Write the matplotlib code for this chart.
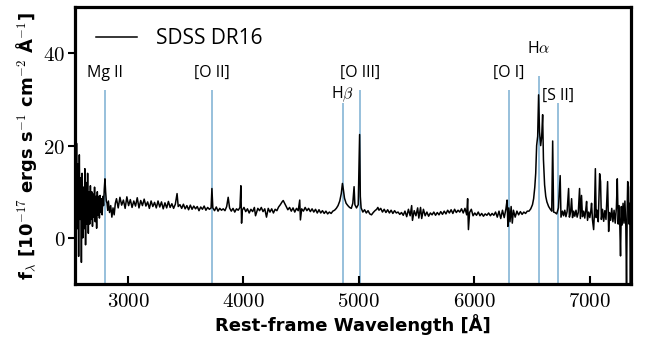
import matplotlib
matplotlib.use("Agg")
import matplotlib.pyplot as plt
import matplotlib.ticker as ticker

plt.rcParams["mathtext.fontset"] = "cm"

# spectrum (rest-frame wavelength in A, flux in 1e-17 cgs)
wave = [
    2542, 2548, 2554, 2560, 2566, 2572, 2578, 2584, 2590, 2596, 2602, 2608, 2614, 2620,
    2626, 2632, 2638, 2644, 2650, 2656, 2662, 2668, 2674, 2680, 2686, 2692, 2698, 2704,
    2710, 2716, 2722, 2728, 2734, 2740, 2746, 2752, 2758, 2764, 2770, 2776, 2782, 2788,
    2794, 2800, 2806, 2812, 2818, 2824, 2830, 2840, 2850, 2860, 2870, 2880, 2890,
    2900, 2915, 2930, 2945, 2960, 2975, 2990, 3005, 3020, 3035, 3050, 3065, 3080, 3095,
    3110, 3125, 3140, 3155, 3170, 3185, 3200, 3215, 3230, 3245, 3260, 3275, 3290, 3305,
    3320, 3335, 3350, 3365, 3380, 3395, 3410, 3425, 3435, 3450,
    3465, 3480, 3495, 3510, 3525, 3540, 3555, 3570, 3585, 3600, 3615, 3630, 3645, 3660,
    3675, 3690, 3705, 3720, 3727, 3735, 3750, 3765, 3780, 3795, 3810, 3825, 3840, 3855,
    3868, 3880, 3895, 3910, 3925, 3940, 3955, 3970, 3978, 3984, 3990, 4005, 4020, 4035,
    4050, 4065, 4080, 4095, 4105, 4125, 4140, 4155, 4170, 4185, 4200,
    4215, 4230, 4245, 4260, 4275, 4290, 4305, 4320, 4335, 4345, 4355, 4370, 4385, 4400,
    4415, 4430, 4445, 4460, 4475, 4488, 4494, 4505, 4520, 4535, 4550, 4565, 4580, 4595,
    4610, 4625, 4640, 4655, 4670, 4685, 4700, 4715, 4730, 4745, 4760, 4775,
    4790, 4805, 4820, 4835, 4848, 4858, 4866, 4876, 4890, 4905, 4920, 4935, 4948, 4959,
    4966, 4980, 4995, 5001, 5007, 5013, 5020,
    5035, 5050, 5065, 5080, 5095, 5110, 5125, 5140, 5155, 5165, 5175, 5190, 5205, 5220,
    5235, 5250, 5265, 5280, 5295, 5310, 5325, 5340, 5355, 5370, 5385, 5400, 5415, 5430,
    5445, 5458, 5465, 5480, 5495, 5510, 5520, 5535, 5545, 5560, 5575, 5590, 5605, 5620,
    5635, 5650, 5665, 5680, 5695, 5710, 5725, 5740, 5755, 5770, 5785, 5800, 5815, 5830,
    5845, 5860, 5875, 5890, 5905, 5920, 5935, 5943, 5950, 5960, 5975, 5990, 6005, 6020,
    6035, 6050, 6065, 6080, 6095, 6110, 6125, 6140, 6155, 6170,
    6185, 6200, 6215, 6230, 6245, 6260, 6275, 6285, 6292, 6300, 6310, 6320, 6330, 6340,
    6355, 6370, 6385, 6400, 6415, 6430, 6445, 6460, 6475, 6490, 6505, 6515, 6525, 6533,
    6541, 6550, 6558, 6566, 6576, 6585, 6593, 6600, 6610, 6620, 6630, 6645, 6660, 6672,
    6680, 6688, 6700, 6715, 6730, 6745, 6752,
    6765, 6775, 6785, 6795, 6805, 6818, 6825, 6835, 6844, 6852, 6862, 6872, 6882, 6892,
    6902, 6913, 6920, 6930, 6938, 6948, 6958, 6966, 6974, 6982, 6992, 7002, 7010, 7017,
    7025, 7035, 7042, 7050, 7057, 7065, 7075, 7087, 7095, 7102, 7112, 7122, 7132, 7142,
    7156, 7165, 7172, 7182, 7192, 7202, 7212, 7222, 7232, 7240, 7248, 7256, 7262, 7268,
    7275, 7282, 7290, 7298, 7306, 7314, 7320, 7326, 7330, 7337, 7342, 7348, 7354, 7360,
]
flux = [
    12.0, -3.0, 20.5, 2.0, 16.0, -4.0, 18.0, 4.0, 13.0, -5.3, 14.0, 0.0, 11.0, 2.0,
    15.0, -1.5, 12.0, 3.0, 14.0, 1.0, 10.0, 3.0, 11.3, 4.0, 10.0, 2.5, 9.5, 4.5,
    11.0, 3.5, 9.0, 2.1, 10.0, 5.0, 9.0, 4.3, 9.2, 5.5, 8.5, 5.0, 9.0, 7.0,
    10.5, 12.8, 10.0, 8.0, 7.5, 6.0, 8.0, 5.5, 7.0, 4.5, 6.5, 5.0, 7.5,
    8.5, 6.5, 8.8, 7.1, 8.2, 6.4, 8.9, 7.0, 8.3, 6.6, 8.0, 6.9, 8.7, 6.5,
    8.1, 7.0, 8.4, 6.9, 7.8, 6.4, 8.0, 6.8, 7.7, 6.5, 8.0, 6.7, 7.8, 6.3,
    7.6, 6.5, 7.9, 6.6, 7.4, 6.4, 7.3, 9.6, 6.8, 7.2,
    6.4, 7.3, 6.3, 7.0, 6.1, 7.1, 6.2, 6.9, 6.3, 6.8, 5.9, 6.7, 6.2, 6.9,
    6.0, 6.6, 6.2, 6.5, 10.7, 6.5, 5.9, 6.7, 5.8, 6.4, 6.0, 6.3, 5.9, 6.8,
    8.8, 6.5, 5.8, 6.4, 5.6, 6.3, 6.0, 6.6, 11.3, 3.2, 6.0, 6.6, 5.7, 6.3,
    5.4, 6.2, 5.7, 6.6, 4.8, 6.4, 5.9, 6.6, 5.7, 6.3, 4.5,
    6.4, 5.6, 6.3, 5.4, 6.2, 5.9, 6.7, 7.2, 7.8, 8.1, 7.6, 6.8, 6.1, 6.6,
    5.8, 6.5, 5.6, 6.4, 5.9, 8.2, 3.9, 6.3, 5.8, 6.6, 5.9, 6.4, 5.7, 6.3,
    5.6, 6.2, 5.4, 6.1, 5.4, 5.9, 5.3, 5.8, 5.2, 5.6, 5.3, 5.8,
    6.0, 6.4, 7.0, 8.0, 9.6, 11.8, 10.5, 8.6, 7.5, 7.0, 6.6, 6.4, 7.5, 11.1,
    7.2, 6.5, 7.2, 15.0, 22.4, 9.0, 6.5,
    5.6, 6.1, 5.4, 5.9, 5.2, 5.0, 5.5, 5.9, 6.2, 6.6, 6.0, 6.4, 5.6, 6.2,
    5.5, 6.1, 5.4, 6.0, 5.3, 5.9, 5.4, 5.6, 5.1, 5.5, 4.9, 5.8, 4.6, 6.2,
    4.8, 7.0, 3.8, 5.9, 4.8, 6.5, 4.3, 6.6, 4.2, 6.2, 4.8, 5.6, 4.7, 5.4,
    5.0, 5.6, 4.9, 5.5, 5.0, 5.7, 5.1, 5.8, 5.2, 6.0, 5.4, 6.1, 5.3, 6.2,
    5.5, 6.0, 5.6, 6.3, 5.4, 6.4, 5.0, 8.5, 1.8, 5.5, 6.2, 4.8, 5.4, 4.9,
    5.6, 4.8, 5.3, 4.7, 5.2, 4.9, 5.4, 4.8, 5.3, 4.9,
    5.6, 4.5, 5.8, 4.2, 6.0, 4.4, 6.3, 8.2, 2.5, 6.5, 3.5, 6.8, 3.2, 6.0,
    4.5, 5.8, 5.0, 5.7, 5.1, 5.6, 5.3, 5.8, 5.8, 6.3, 7.2, 8.5, 11.0, 14.0,
    20.0, 22.0, 31.0, 23.0, 20.0, 22.0, 26.7, 17.0, 11.5, 9.0, 7.8, 6.8, 6.2, 5.8,
    21.0, 5.6, 5.5, 5.2, 6.5, 13.5, 4.5,
    5.8, 4.8, 6.0, 4.6, 5.7, 10.7, 4.5, 5.6, 8.5, 4.4, 5.8, 4.7, 6.0, 4.5,
    5.5, 10.7, 4.2, 9.2, 4.6, 5.8, 4.3, 5.9, 7.9, 3.8, 5.6, 4.4, 5.7, 7.5,
    3.9, 1.8, 5.5, 15.0, 4.4, 6.0, 3.5, 13.9, 12.2, 4.0, 6.2, 3.6, 5.9, 4.0,
    12.2, 1.4, 5.5, 3.8, 6.4, 3.5, 6.0, 3.2, 6.5, 12.8, 3.0, 7.0, 2.5, -3.9,
    6.8, 2.8, 7.5, 3.2, 8.0, 2.5, -10.5, 6.5, 12.2, 11.0, 3.0, 7.5, -11.0, 6.0,
]

# emission line markers
line_names = ["Mg II", "[O II]", r"H$\beta$", "[O III]", "[O I]", r"H$\alpha$", "[S II]"]
line_waves = [2800, 3727, 4861, 5007, 6300, 6563, 6724]
line_tops = [32.0, 32.0, 29.3, 32.0, 32.0, 35.0, 29.3]
label_y = [34.9, 34.9, 30.2, 34.9, 34.9, 40.0, 30.0]

fig = plt.figure(figsize=(6.46, 3.41), dpi=100)
ax = fig.add_axes([0.116, 0.167, 0.861, 0.812])

ax.vlines(line_waves, -10, line_tops, color="tab:blue", alpha=0.5, lw=1.3, zorder=1)
for name, w, yl in zip(line_names, line_waves, label_y):
    ax.text(w, yl, name, ha="center", va="baseline", fontsize=11.5,
            family="Open Sans", zorder=3)

ax.plot(wave, flux, color="black", lw=1.1, label="SDSS DR16", zorder=2)

ax.set_xlim(2540, 7360)
ax.set_ylim(-10, 50)
ax.xaxis.set_major_locator(ticker.MultipleLocator(1000))
ax.yaxis.set_major_locator(ticker.MultipleLocator(20))
ax.xaxis.set_major_formatter(ticker.FuncFormatter(lambda v, p: r"$\mathbf{%d}$" % v))
ax.yaxis.set_major_formatter(ticker.FuncFormatter(lambda v, p: r"$\mathbf{%d}$" % v))
ax.tick_params(axis="x", direction="in", length=6, width=1.5, labelsize=15, pad=5)
ax.tick_params(axis="y", direction="out", length=5, width=1.5, labelsize=15, pad=2)
for s in ax.spines.values():
    s.set_linewidth(2.3)

ax.set_xlabel("Rest-frame Wavelength [Å]", fontsize=13, fontweight="bold", labelpad=2)
ax.set_ylabel(r"f$_\lambda$ [10$^{-17}$ ergs s$^{-1}$ cm$^{-2}$ Å$^{-1}$]",
              fontsize=13, fontweight="bold", labelpad=3)

ax.legend(loc="upper left", frameon=False, prop={"family": "Open Sans", "size": 15},
          handlelength=2.0, handletextpad=0.9, borderaxespad=0.6)

fig.savefig("out.png", dpi=100)
